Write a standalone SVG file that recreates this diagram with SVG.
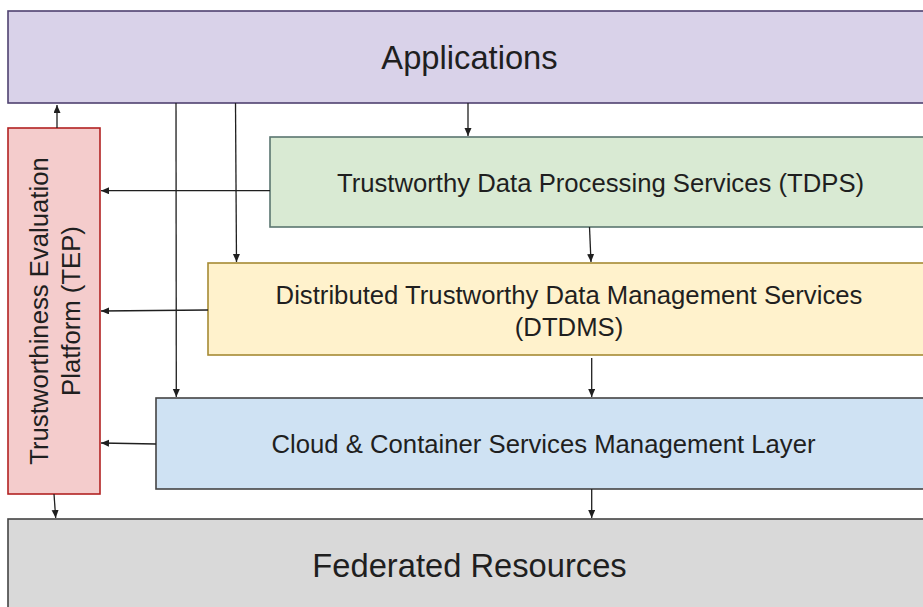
<svg xmlns="http://www.w3.org/2000/svg" width="923" height="607" viewBox="0 0 923 607">
  <style>
    .box { stroke-width: 1.6; }
    .lbl { font-family: "Liberation Sans", Arial, sans-serif; fill: #1f1f1f; text-anchor: middle; }
    .big { font-size: 32.7px; }
    .mid { font-size: 25.7px; }
    .conn line { stroke: #1f1f1f; stroke-width: 1.3; fill: none; marker-end: url(#arrow); }
  </style>
  <defs>
    <marker id="arrow" markerUnits="userSpaceOnUse" markerWidth="9" markerHeight="8" refX="8" refY="3.5" orient="auto">
      <path d="M0,0 L8,3.5 L0,7 Z" fill="#1f1f1f"/>
    </marker>
  </defs>
  <rect width="923" height="607" fill="#ffffff"/>

  <g id="applications">
    <rect class="box" x="8" y="11" width="923" height="92" fill="#d9d2e9" stroke="#4f4270"/>
    <text class="lbl big" x="469.5" y="69">Applications</text>
  </g>

  <g id="tep">
    <rect class="box" x="8" y="128" width="92" height="366" fill="#f4cccc" stroke="#b22222"/>
    <text class="lbl mid" transform="translate(48,311) rotate(-90)" x="0" y="0">Trustworthiness Evaluation</text>
    <text class="lbl mid" transform="translate(80,311) rotate(-90)" x="0" y="0">Platform (TEP)</text>
  </g>

  <g id="tdps">
    <rect class="box" x="270" y="137" width="661" height="90" fill="#d9ead3" stroke="#5a7670"/>
    <text class="lbl mid" x="600.5" y="191.5">Trustworthy Data Processing Services (TDPS)</text>
  </g>

  <g id="dtdms">
    <rect class="box" x="208" y="263" width="723" height="92" fill="#fff2cc" stroke="#a68a34"/>
    <text class="lbl mid" x="569" y="304">Distributed Trustworthy Data Management Services</text>
    <text class="lbl mid" x="569" y="336">(DTDMS)</text>
  </g>

  <g id="cloud">
    <rect class="box" x="156" y="398" width="775" height="91" fill="#cfe2f3" stroke="#444444"/>
    <text class="lbl mid" x="543.5" y="453">Cloud &amp; Container Services Management Layer</text>
  </g>

  <g id="federated">
    <rect class="box" x="8" y="519" width="923" height="100" fill="#d9d9d9" stroke="#444444"/>
    <text class="lbl big" x="469.5" y="577">Federated Resources</text>
  </g>

  <g id="connectors" class="conn">
    <line x1="57" y1="128" x2="57" y2="105"/>
    <line x1="468" y1="103" x2="468" y2="136"/>
    <line x1="589.5" y1="227" x2="591" y2="262"/>
    <line x1="591.7" y1="358" x2="591.7" y2="397"/>
    <line x1="591.7" y1="489" x2="591.7" y2="518"/>
    <line x1="54" y1="494" x2="55.7" y2="518"/>
    <line x1="176" y1="103" x2="176.3" y2="397"/>
    <line x1="235.5" y1="103" x2="236.5" y2="262"/>
    <line x1="270" y1="190.7" x2="101" y2="190.7"/>
    <line x1="208" y1="310" x2="101" y2="311"/>
    <line x1="156" y1="444" x2="101" y2="443"/>
  </g>
</svg>
